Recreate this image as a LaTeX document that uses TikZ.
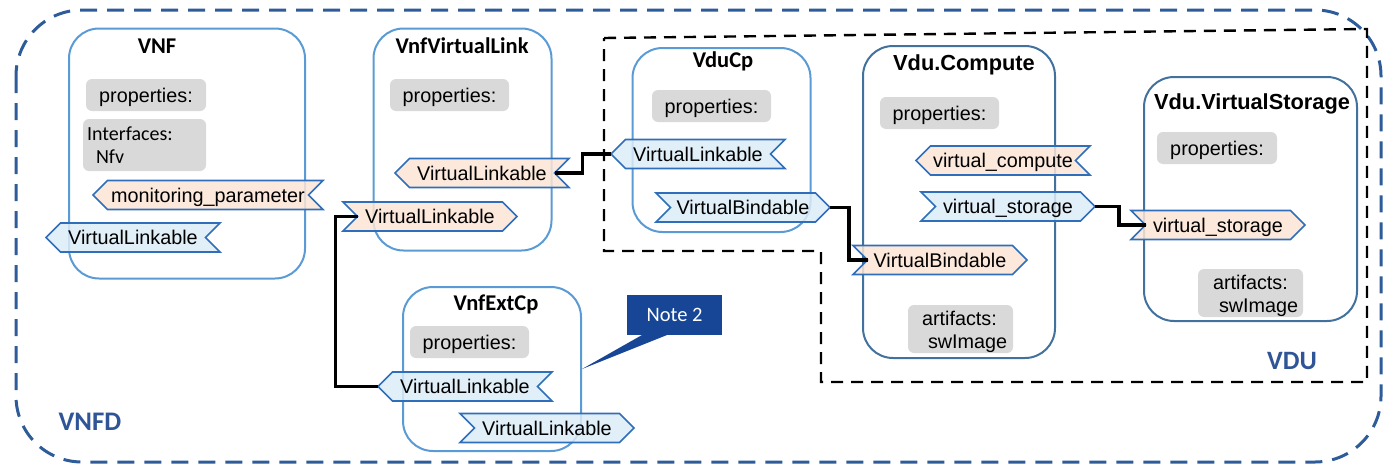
\documentclass[tikz,border=0pt]{standalone}
\usepackage{fontspec}
\setmainfont{Liberation Sans}
\newfontfamily\carlito{Carlito}
\usetikzlibrary{shapes.symbols,calc}

\definecolor{vnfdblue}{RGB}{46,92,152}
\definecolor{boxlight}{RGB}{91,155,213}
\definecolor{boxdark}{RGB}{65,113,156}
\definecolor{tagline}{RGB}{47,110,186}
\definecolor{tagorange}{RGB}{251,229,214}
\definecolor{tagblue}{RGB}{220,236,247}
\definecolor{propgray}{RGB}{217,217,217}
\definecolor{notefill}{RGB}{24,70,150}
\definecolor{labelblue}{RGB}{47,85,151}

\begin{document}
\begin{tikzpicture}[x=1pt,y=-1pt,
  every node/.style={inner sep=0pt, outer sep=0pt},
  tf/.style={font=\fontsize{19.8}{23.3}\selectfont},
  container/.style={draw=boxlight, line width=2pt, rounded corners=30pt},
  containerdk/.style={container, draw=boxdark},
  prop/.style={fill=propgray, rounded corners=6pt, tf, text height=14pt, text depth=0pt},
  titlecal/.style={anchor=base, font=\carlito\bfseries\fontsize{22.5}{25}\selectfont},
  titlearial/.style={anchor=base, font=\bfseries\fontsize{21.8}{24}\selectfont},
  tagbase/.style={shape=signal, signal pointer angle=90, draw=tagline,
    line width=1.6pt, minimum height=29pt, minimum width=174pt, tf,
    text height=14pt, text depth=0pt, fill opacity=0.85, text opacity=1},
  tagpl/.style={tagbase, signal to=west, signal from=east},
  tagpr/.style={tagbase, signal to=east, signal from=west},
  orange/.style={fill=tagorange},
  blue/.style={fill=tagblue},
  link/.style={draw=black, line width=3.2pt},
  regionlabel/.style={anchor=base, text=labelblue, font=\carlito\bfseries\fontsize{26.8}{30}\selectfont}
]
\useasboundingbox (0,0) rectangle (1383,466);

% VNFD frame
\draw[vnfdblue, line width=3pt, dash pattern=on 17pt off 10pt, rounded corners=66pt]
  (16,10) rectangle (1381,462);
\node[regionlabel] (vnfdlabel) at (90,430) {VNFD};

% VDU frame
\draw[black, line width=2.4pt, dash pattern=on 12pt off 8pt]
  (604,38) -- (1367,29) -- (1367,382) -- (821,382) -- (821,251) -- (604,251) -- cycle;
\node[regionlabel, font=\carlito\bfseries\fontsize{26.5}{30}\selectfont] (vdulabel) at (1292,369.3) {VDU};

% containers
\node[container, minimum width=236pt, minimum height=250pt] (vnf) at (187,153.5) {};
\node[container, minimum width=178pt, minimum height=222pt] (vvl) at (462.5,139.5) {};
\node[container, minimum width=178pt, minimum height=184pt] (vducp) at (721.5,140) {};
\node[containerdk, minimum width=192pt, minimum height=312pt] (compute) at (959,202) {};
\node[containerdk, minimum width=213pt, minimum height=244pt] (storage) at (1250.5,199) {};
\node[container, minimum width=178pt, minimum height=164pt] (extcp) at (492,369) {};

% titles
\node[titlecal] (vnftitle) at (157,53) {VNF};
\node[titlecal] (vvltitle) at (462,53) {VnfVirtualLink};
\node[titlecal] (vducptitle) at (723,67) {VduCp};
\node[titlecal] (extcptitle) at (496,310) {VnfExtCp};
\node[titlearial] (computetitle) at (964,70) {Vdu.Compute};
\node[titlearial] (storagetitle) at (1252,109.3) {Vdu.VirtualStorage};

% property blocks
\node[prop, minimum width=120pt, minimum height=32pt] (vnfprop) at (146,95) {properties:};
\node[prop, minimum width=119pt, minimum height=32pt] (vvlprop) at (449.5,95) {properties:};
\node[prop, minimum width=119pt, minimum height=32pt] (vducpprop) at (711.5,106) {properties:};
\node[prop, minimum width=119pt, minimum height=32pt] (computeprop) at (939.5,113) {properties:};
\node[prop, minimum width=120pt, minimum height=32pt] (storageprop) at (1217,148) {properties:};
\node[prop, minimum width=119pt, minimum height=32pt] (extcpprop) at (469.5,342) {properties:};

\node[prop, minimum width=123pt, minimum height=52pt] (vnfif) at (144.5,145) {};
\node[anchor=base west, font=\carlito\fontsize{20}{23.3}\selectfont] (vnfiftxt1) at (87,140) {Interfaces:};
\node[anchor=base west, font=\carlito\fontsize{20}{23.3}\selectfont] (vnfiftxt2) at (96,163.3) {Nfv};

\node[prop, minimum width=105pt, minimum height=48pt] (computeart) at (960.5,329) {};
\node[anchor=base west, tf] (computearttxt1) at (922,325) {artifacts:};
\node[anchor=base west, tf] (computearttxt2) at (928,348.3) {swImage};

\node[prop, minimum width=105pt, minimum height=48pt] (storageart) at (1250.5,293) {};
\node[anchor=base west, tf] (storagearttxt1) at (1213,289.3) {artifacts:};
\node[anchor=base west, tf] (storagearttxt2) at (1219,312.3) {swImage};

% requirement / capability tags
\node[tagpl, orange, minimum width=230pt] (vnfmon) at (208,195) {monitoring\_parameter};
\node[tagpl, blue] (vnfvl) at (133,237.5) {VirtualLinkable};
\node[tagpl, orange] (vvlcap) at (482,173) {VirtualLinkable};
\node[tagpr, orange] (vvlext) at (430,216.5) {VirtualLinkable};
\node[tagpl, blue] (vducpvl) at (698,154) {VirtualLinkable};
\node[tagpr, blue] (vducpvb) at (743,207.5) {VirtualBindable};
\node[tagpl, orange] (computevc) at (1003,160.5) {virtual\_compute};
\node[tagpr, blue] (computevs) at (1008,206.5) {virtual\_storage};
\node[tagpr, orange] (computevb) at (940,260) {VirtualBindable};
\node[tagpr, orange] (storagevs) at (1218,225) {virtual\_storage};
\node[tagpl, blue] (extcpvl) at (465,386.5) {VirtualLinkable};
\node[tagpr, blue] (extcpout) at (547,428) {VirtualLinkable};

% relationships
\draw[link] (vvlcap.east) -- ++(28,0) |- (vducpvl.west);
\draw[link] (vducpvb.east) -- ++(19,0) |- (computevb.west);
\draw[link] (computevs.east) -- ++(24,0) |- (storagevs.west);
\draw[link] (vvlext.west) -- ++(-22,0) |- (extcpvl.west);

% note callout
\node[fill=notefill, minimum width=95pt, minimum height=40pt, text=white,
  font=\carlito\fontsize{20.5}{24}\selectfont, text height=13pt, text depth=0pt] (note) at (674.5,315) {Note 2};
\coordinate (notetip) at (582,369);
\fill[notefill] ($(note.south west)+(15,0)$) -- (notetip) -- ($(note.south west)+(40,0)$) -- cycle;
\end{tikzpicture}
\end{document}
